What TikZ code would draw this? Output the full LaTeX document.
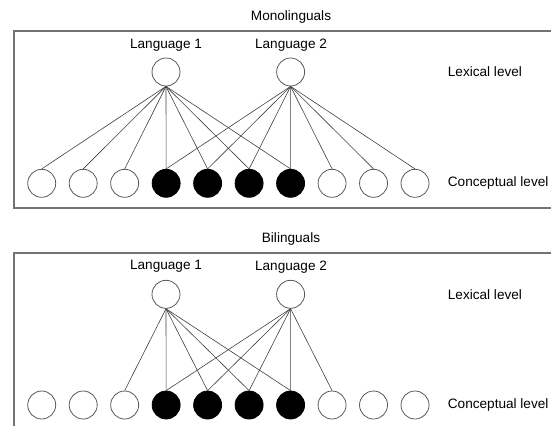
\documentclass[tikz,border=0pt]{standalone}
\usepackage{fontspec}
\setmainfont{Liberation Sans}
\begin{document}
\begin{tikzpicture}[x=1bp,y=-1bp,
  circ/.style={circle,draw=black!65,line width=0.8bp,minimum size=28bp,inner sep=0pt},
  filled/.style={circ,fill=black,draw=black},
  lbl/.style={font=\fontsize{13.6bp}{16bp}\selectfont,inner sep=0pt},
  frame/.style={draw=black!55,line width=1.3bp},
  link/.style={draw=black!75,line width=0.6bp}]
\useasboundingbox (0,0) rectangle (551,425);
\clip (0,0) rectangle (551,425);

% ---------- Monolinguals ----------
\node[lbl] (tmono) at (291,17) {Monolinguals};
\draw[frame] (14,31) rectangle (570,208);
\node[lbl] (ta1) at (166,45) {Language 1};
\node[lbl] (ta2) at (291,45) {Language 2};
\node[circ] (L1) at (166,72) {};
\node[circ] (L2) at (290.6,72) {};
\node[lbl,anchor=west] (lexa) at (447.7,72) {Lexical level};
\node[lbl,anchor=west] (cona) at (447.7,183.3) {Conceptual level};
\foreach \i in {1,...,10}{
  \pgfmathsetmacro{\xx}{41.7+(\i-1)*41.48}
  \ifnum\i<4 \node[circ] (c\i) at (\xx,183.3) {};
  \else\ifnum\i>7 \node[circ] (c\i) at (\xx,183.3) {};
  \else \node[filled] (c\i) at (\xx,183.3) {};
  \fi\fi
}
\foreach \j in {1,...,7} \draw[link] (L1.south) -- (c\j.north);
\foreach \j in {4,...,10} \draw[link] (L2.south) -- (c\j.north);

% ---------- Bilinguals ----------
\node[lbl] (tbi) at (291,239) {Bilinguals};
\draw[frame] (14,253) rectangle (570,450);
\node[lbl] (tb1) at (166,266.7) {Language 1};
\node[lbl] (tb2) at (291,266.7) {Language 2};
\node[circ] (M1) at (166,294.3) {};
\node[circ] (M2) at (290.6,294.3) {};
\node[lbl,anchor=west] (lexb) at (447.7,294.3) {Lexical level};
\node[lbl,anchor=west] (conb) at (447.7,405) {Conceptual level};
\foreach \i in {1,...,10}{
  \pgfmathsetmacro{\xx}{41.7+(\i-1)*41.48}
  \ifnum\i<4 \node[circ] (d\i) at (\xx,405) {};
  \else\ifnum\i>7 \node[circ] (d\i) at (\xx,405) {};
  \else \node[filled] (d\i) at (\xx,405) {};
  \fi\fi
}
\foreach \j in {3,...,7} \draw[link] (M1.south) -- (d\j.north);
\foreach \j in {4,...,8} \draw[link] (M2.south) -- (d\j.north);
\end{tikzpicture}
\end{document}
